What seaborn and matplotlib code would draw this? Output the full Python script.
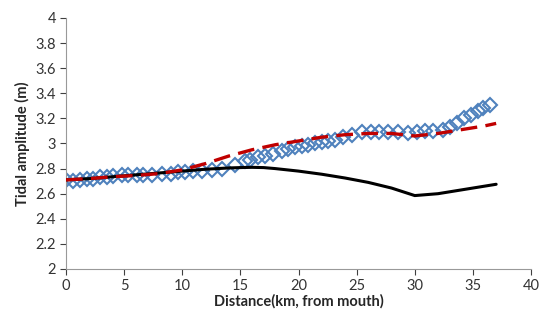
import matplotlib
matplotlib.use("Agg")
import matplotlib.pyplot as plt
import seaborn as sns
import pandas as pd

# Observed tidal amplitude (diamonds)
obs_km = [0, 0.6, 1.2, 1.8, 2.3, 2.9, 3.5, 4.0, 4.8, 5.3, 6.1, 6.6, 7.4, 8.3, 9.0,
          9.6, 10.2, 10.9, 11.7, 12.6, 13.4, 14.5, 15.4, 15.8, 16.5, 17.1, 17.8,
          18.6, 19.1, 19.7, 20.3, 20.8, 21.4, 22.0, 22.5, 23.1, 23.8, 24.6, 25.5,
          26.2, 26.9, 27.7, 28.6, 29.4, 30.2, 30.9, 31.6, 32.4, 33.0, 33.6, 34.2,
          34.8, 35.4, 35.9, 36.5]
obs_amp = [2.71, 2.70, 2.71, 2.72, 2.72, 2.73, 2.73, 2.74, 2.75, 2.75, 2.75, 2.75,
           2.75, 2.76, 2.76, 2.77, 2.77, 2.78, 2.78, 2.79, 2.80, 2.83, 2.86, 2.87,
           2.89, 2.90, 2.92, 2.94, 2.96, 2.97, 2.98, 2.99, 3.00, 3.01, 3.02, 3.03,
           3.05, 3.07, 3.09, 3.09, 3.09, 3.09, 3.09, 3.08, 3.09, 3.10, 3.10, 3.11,
           3.13, 3.16, 3.20, 3.23, 3.26, 3.28, 3.31]

# Model curves
mod_km = [0, 2, 4, 6, 8, 10, 12, 14, 15, 16, 17, 18, 19, 20, 22, 24, 26, 28, 30,
          32, 34, 36, 37]
red_amp = [2.71, 2.72, 2.735, 2.745, 2.76, 2.79, 2.84, 2.90, 2.925, 2.95, 2.97,
           2.99, 3.005, 3.02, 3.05, 3.07, 3.08, 3.08, 3.06, 3.08, 3.11, 3.14, 3.16]
black_amp = [2.71, 2.72, 2.735, 2.75, 2.765, 2.78, 2.795, 2.805, 2.808, 2.81, 2.808,
             2.80, 2.79, 2.78, 2.755, 2.725, 2.69, 2.645, 2.585, 2.60, 2.63, 2.66,
             2.675]

xticks = [0, 5, 10, 15, 20, 25, 30, 35, 40]
yticks = [2, 2.2, 2.4, 2.6, 2.8, 3, 3.2, 3.4, 3.6, 3.8, 4]
ytick_labels = ["2", "2.2", "2.4", "2.6", "2.8", "3", "3.2", "3.4", "3.6", "3.8", "4"]

sns.set_theme(style="white")
plt.rcParams['font.family'] = ['Lato', 'DejaVu Sans']

fig = plt.figure(figsize=(5.5, 3.21), dpi=100)
ax = fig.add_axes([0.12, 0.162, 0.8455, 0.782])

obs = pd.DataFrame({"km": obs_km, "amp": obs_amp})
mod = pd.DataFrame({"km": mod_km, "red": red_amp, "black": black_amp})

sns.lineplot(data=obs, x="km", y="amp", ax=ax, linestyle="none", marker="D",
             markersize=7.5, markerfacecolor="none", markeredgecolor="#4f81bd",
             markeredgewidth=1.5, zorder=2)
sns.lineplot(data=mod, x="km", y="black", ax=ax, color="black", linewidth=2.2, zorder=3)
sns.lineplot(data=mod, x="km", y="red", ax=ax, color="#c00000", linewidth=2.4,
             dashes=False, zorder=4)
ax.lines[-1].set_linestyle((0, (5, 2.5)))

ax.set_xlim(0, 40)
ax.set_ylim(2, 4)
ax.set_xticks(xticks)
ax.set_yticks(yticks)
ax.set_yticklabels(ytick_labels)
ax.tick_params(axis="both", labelsize=10.5, colors="#404040", length=4,
               width=0.8, direction="out", pad=3, bottom=True, left=True)
for t in ax.get_xticklabels() + ax.get_yticklabels():
    t.set_color("#333333")

for side in ["top", "right"]:
    ax.spines[side].set_visible(False)
for side in ["left", "bottom"]:
    ax.spines[side].set_color("#999999")
    ax.spines[side].set_linewidth(0.8)

ax.set_xlabel("Distance(km, from mouth)", fontsize=10.5, fontweight="bold", labelpad=1)
ax.set_ylabel("Tidal amplitude (m)", fontsize=10.5, fontweight="bold", labelpad=4)

fig.savefig("out.png", dpi=100)
